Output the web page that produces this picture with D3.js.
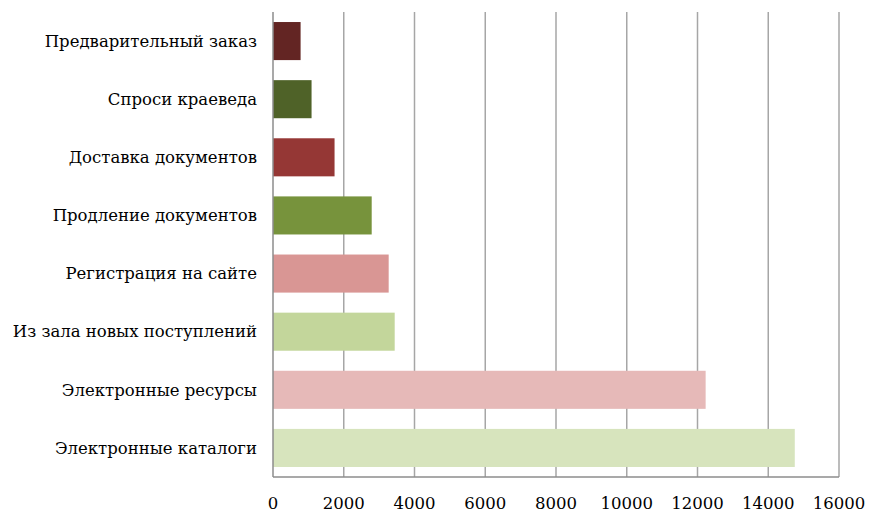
<!DOCTYPE html>
<html>
<head>
    <script src="https://d3js.org/d3.v7.min.js"></script>
    <style>
        body { margin: 0; background: #fff; }
    </style>
</head>
<body>
<div id="chart"></div>
<script>
    // categories listed top to bottom
    const categories = [
        "Предварительный заказ",
        "Спроси краеведа",
        "Доставка документов",
        "Продление документов",
        "Регистрация на сайте",
        "Из зала новых поступлений",
        "Электронные ресурсы",
        "Электронные каталоги"
    ];
    const values = [780, 1090, 1740, 2790, 3270, 3440, 12230, 14750];
    const colors = ["#632523", "#4f6228", "#953735", "#77933c", "#d99694", "#c3d69b", "#e6b9b8", "#d7e4bd"];
    const ticks = [0, 2000, 4000, 6000, 8000, 10000, 12000, 14000, 16000];

    const W = 869, H = 513;
    const margin = { top: 12, right: 30, bottom: 36, left: 273 };
    const width = 839 - margin.left, height = 477 - margin.top;
    const font = "DejaVu Serif, serif";

    const svg = d3.select("#chart").append("svg")
        .attr("width", W).attr("height", H);
    const g = svg.append("g")
        .attr("transform", `translate(${margin.left},${margin.top})`);

    const x = d3.scaleLinear().domain([0, 16000]).range([0, width]);
    const y = d3.scaleBand().domain(categories).range([0, height])
        .paddingInner(0.345).paddingOuter(0.1725);

    // vertical gridlines
    g.selectAll(".grid").data(ticks.slice(1)).join("line")
        .attr("x1", d => x(d)).attr("x2", d => x(d))
        .attr("y1", 0).attr("y2", height)
        .attr("stroke", "#a6a6a6").attr("stroke-width", 1.5);

    g.selectAll(".bar").data(categories).join("rect")
        .attr("x", 0)
        .attr("y", d => y(d))
        .attr("width", (d, i) => x(values[i]))
        .attr("height", y.bandwidth())
        .attr("fill", (d, i) => colors[i]);

    // axes lines
    g.append("line").attr("x1", 0).attr("x2", 0).attr("y1", 0).attr("y2", height)
        .attr("stroke", "#8c8c8c").attr("stroke-width", 1.5);
    g.append("line").attr("x1", 0).attr("x2", width).attr("y1", height).attr("y2", height)
        .attr("stroke", "#8c8c8c").attr("stroke-width", 1.5);

    // category labels
    g.selectAll(".cat").data(categories).join("text")
        .style("font-family", font).style("font-size", "16.5px")
        .attr("x", -16)
        .attr("y", d => y(d) + y.bandwidth() / 2)
        .attr("dy", "0.35em")
        .attr("text-anchor", "end")
        .text(d => d);

    // tick labels
    g.selectAll(".tick").data(ticks).join("text")
        .style("font-family", font).style("font-size", "16.5px")
        .attr("x", d => x(d))
        .attr("y", height + 32)
        .attr("text-anchor", "middle")
        .text(d => d);
</script>
</body>
</html>
